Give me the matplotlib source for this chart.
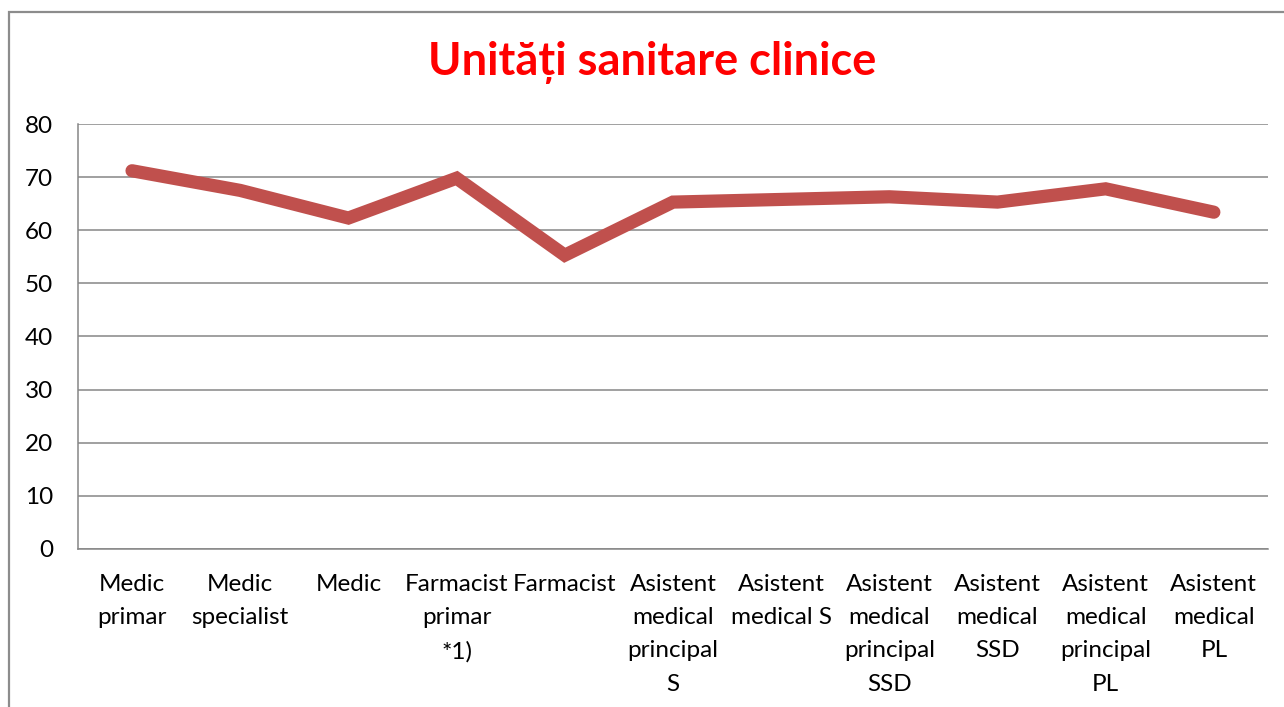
import matplotlib

matplotlib.use("Agg")

import matplotlib.pyplot as plt
from matplotlib.patches import Rectangle

categories = [
    "Medic\nprimar",
    "Medic\nspecialist",
    "Medic",
    "Farmacist\nprimar\n*1)",
    "Farmacist",
    "Asistent\nmedical\nprincipal\nS",
    "Asistent\nmedical S",
    "Asistent\nmedical\nprincipal\nSSD",
    "Asistent\nmedical\nSSD",
    "Asistent\nmedical\nprincipal\nPL",
    "Asistent\nmedical\nPL",
]
values = [71.2, 67.5, 62.3, 69.8, 55.3, 65.3, 65.8, 66.3, 65.3, 67.8, 63.4]
y_ticks = [0, 10, 20, 30, 40, 50, 60, 70, 80]
title = "Unităţi sanitare clinice".replace("ţ", "ț")


def main() -> None:
    plt.rcParams.update(
        {
            "font.family": ["Lato", "DejaVu Sans"],
            "axes.spines.top": False,
            "axes.spines.right": False,
        }
    )

    fig = plt.figure(figsize=(12.84, 7.07), dpi=100)
    ax = fig.add_axes([0.0607, 0.2235, 0.9268, 0.6011])

    # outer chart frame (only top and left edges visible in the reference)
    fig.patches.append(
        Rectangle(
            (9 / 1284, -0.1), 1.2, 1.1 - 12 / 707,
            transform=fig.transFigure, fill=False,
            edgecolor="#8c8c8c", linewidth=1.6, zorder=0,
        )
    )

    x = list(range(len(categories)))
    ax.plot(x, values, color="#c0504d", linewidth=9.5,
            solid_capstyle="round", solid_joinstyle="miter", zorder=3)

    ax.set_xlim(-0.5, len(categories) - 0.5)
    ax.set_ylim(0, 80)
    ax.set_yticks(y_ticks)
    ax.set_xticks(x)
    ax.set_xticklabels(categories, fontsize=17.5, linespacing=1.72)
    ax.tick_params(axis="x", length=0, pad=18)
    ax.tick_params(axis="y", length=0, pad=18, labelsize=17.5)

    ax.grid(axis="y", color="#868686", linewidth=1.1)
    ax.set_axisbelow(True)
    for side in ("left", "bottom"):
        ax.spines[side].set_color("#868686")
        ax.spines[side].set_linewidth(1.1)

    fig.text(0.508, 0.911, title, color="#ff0000", fontsize=32.5,
             fontweight="bold", ha="center", va="center")

    fig.savefig("out.png", dpi=100)
    plt.close(fig)


if __name__ == "__main__":
    main()
